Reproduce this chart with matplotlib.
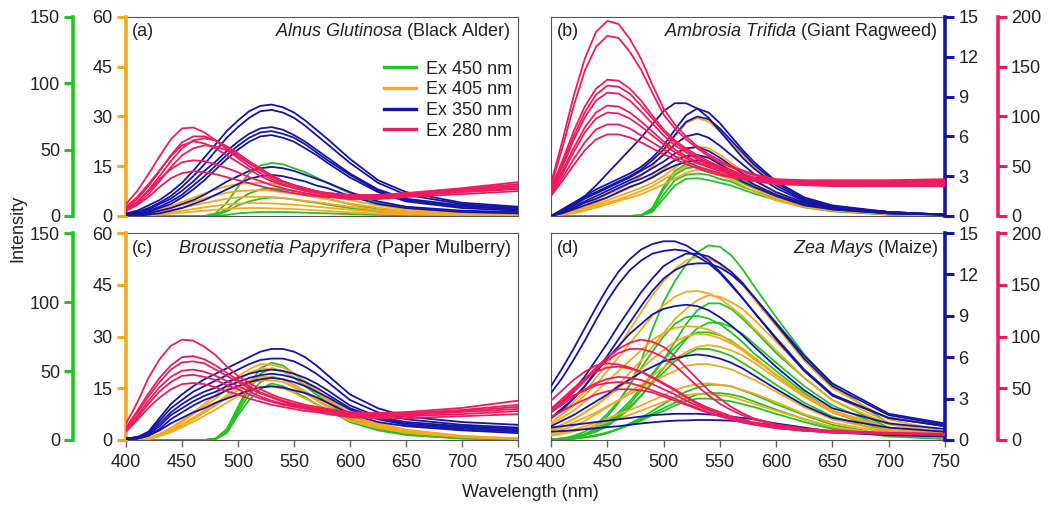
"""Four-panel fluorescence emission spectra (Ex 450/405/350/280 nm) for pollen species."""
import matplotlib
matplotlib.use("Agg")
import matplotlib.pyplot as plt
from matplotlib.lines import Line2D

plt.rcParams["font.family"] = ["Liberation Sans", "DejaVu Sans"]
plt.rcParams["mathtext.fontset"] = "custom"
plt.rcParams["mathtext.rm"] = "Liberation Sans"
plt.rcParams["mathtext.it"] = "Liberation Sans:italic"

# ----------------------------------------------------------------------------
# Data
# ----------------------------------------------------------------------------
wavelength = [400, 410, 420, 430, 440, 450, 460, 470, 480, 490, 500, 510,
              520, 530, 540, 550, 560, 570, 580, 600, 625, 650, 700, 750]

ex_labels = ["Ex 450 nm", "Ex 405 nm", "Ex 350 nm", "Ex 280 nm"]
ex_colors = ["#22c41f", "#f6a81f", "#1414a8", "#ee1b5e"]
ex_ymax = [150, 60, 15, 200]
ex_yticks = [[0, 50, 100, 150], [0, 15, 30, 45, 60],
             [0, 3, 6, 9, 12, 15], [0, 50, 100, 150, 200]]

# (a) Alnus glutinosa
alder_ex450 = [
    [0, 0, 0, 0, 0, 0, 0, 0, 2, 10, 22, 32, 38, 40, 39, 36, 33, 29, 25, 17, 10, 6, 2, 1],
    [0, 0, 0, 0, 0, 0, 0, 0, 1, 5, 12, 17, 20, 21, 20, 19, 17, 15, 13, 9, 5, 3, 1, 0.5],
    [0, 0, 0, 0, 0, 0, 0, 0, 0.6, 3.5, 8, 11, 13, 14, 13.5, 12.5, 11, 10, 8.5, 6, 3.5, 2, 0.8, 0.3],
    [0, 0, 0, 0, 0, 0, 0, 0, 0.2, 0.8, 2, 2.6, 3, 3, 3, 2.8, 2.5, 2.2, 2, 1.4, 0.8, 0.5, 0.2, 0.1],
]
alder_ex405 = [
    [0, 0.3, 1.0, 1.9, 3.0, 4.2, 5.5, 6.8, 8.0, 9.0, 9.6, 9.9, 10, 9.8, 9.3, 8.7, 8.0, 7.2, 6.4, 4.8, 3.2, 2.0, 0.8, 0.3],
    [0, 0.2, 0.8, 1.5, 2.4, 3.3, 4.3, 5.3, 6.2, 7.0, 7.5, 7.7, 7.8, 7.6, 7.2, 6.7, 6.2, 5.6, 5.0, 3.7, 2.5, 1.5, 0.6, 0.2],
    [0, 0.2, 0.6, 1.1, 1.8, 2.5, 3.2, 3.9, 4.6, 5.2, 5.6, 5.8, 5.8, 5.7, 5.4, 5.0, 4.6, 4.2, 3.7, 2.8, 1.8, 1.1, 0.5, 0.2],
    [0, 0.1, 0.4, 0.7, 1.2, 1.6, 2.1, 2.6, 3.1, 3.5, 3.7, 3.9, 3.9, 3.8, 3.6, 3.4, 3.1, 2.8, 2.5, 1.9, 1.2, 0.8, 0.3, 0.1],
    [0, 0.1, 0.2, 0.4, 0.7, 1.0, 1.3, 1.6, 1.9, 2.1, 2.3, 2.4, 2.4, 2.3, 2.2, 2.1, 1.9, 1.7, 1.5, 1.1, 0.7, 0.5, 0.2, 0.1],
]
alder_ex350 = [
    [0.2, 0.4, 0.8, 1.2, 1.8, 2.5, 3.4, 4.4, 5.4, 6.4, 7.2, 7.9, 8.3, 8.4, 8.2, 7.8, 7.2, 6.5, 5.8, 4.3, 2.7, 1.8, 1.0, 0.7],
    [0.1, 0.3, 0.6, 1.0, 1.5, 2.2, 3.0, 3.9, 4.9, 5.9, 6.7, 7.4, 7.9, 8.0, 7.8, 7.4, 6.8, 6.1, 5.4, 4.0, 2.5, 1.6, 0.9, 0.6],
    [0.1, 0.3, 0.5, 0.9, 1.3, 1.9, 2.6, 3.4, 4.1, 4.9, 5.6, 6.2, 6.6, 6.7, 6.5, 6.1, 5.6, 5.0, 4.4, 3.2, 2.0, 1.3, 0.8, 0.5],
    [0.1, 0.2, 0.4, 0.7, 1.1, 1.6, 2.3, 3.0, 3.8, 4.6, 5.3, 5.9, 6.3, 6.4, 6.2, 5.9, 5.4, 4.8, 4.2, 3.1, 1.9, 1.2, 0.7, 0.5],
    [0.0, 0.1, 0.3, 0.6, 0.9, 1.4, 2.0, 2.7, 3.5, 4.3, 5.0, 5.6, 6.0, 6.1, 5.9, 5.6, 5.1, 4.6, 4.0, 2.9, 1.8, 1.1, 0.6, 0.4],
    [0.0, 0.1, 0.2, 0.4, 0.6, 0.9, 1.2, 1.6, 2.1, 2.6, 3.0, 3.4, 3.6, 3.7, 3.6, 3.4, 3.1, 2.8, 2.5, 1.8, 1.1, 0.7, 0.4, 0.3],
    [0.0, 0.0, 0.1, 0.2, 0.4, 0.6, 0.9, 1.2, 1.6, 2.0, 2.4, 2.8, 3.0, 3.1, 3.0, 2.8, 2.6, 2.3, 2.1, 1.5, 0.9, 0.6, 0.3, 0.2],
]
alder_ex280 = [
    [12, 25, 42, 60, 77, 88, 89, 84, 76, 67, 58, 50, 43, 37, 32, 28, 26, 24, 23, 21, 21, 23, 28, 34],
    [8, 17, 30, 45, 61, 74, 80, 80, 76, 69, 61, 53, 46, 39, 34, 30, 27, 24, 22, 20, 20, 22, 27, 32],
    [7, 14, 26, 40, 55, 68, 76, 78, 76, 70, 63, 55, 48, 41, 35, 31, 28, 25, 23, 21, 21, 23, 26, 30],
    [9, 19, 32, 46, 60, 71, 75, 73, 68, 61, 54, 47, 40, 35, 31, 28, 25, 23, 21, 19, 19, 21, 25, 28],
    [6, 12, 22, 35, 49, 61, 68, 71, 70, 66, 60, 53, 46, 40, 35, 31, 28, 25, 23, 20, 20, 22, 26, 30],
    [7, 14, 25, 37, 47, 54, 56, 55, 52, 48, 44, 39, 35, 31, 28, 25, 23, 21, 20, 18, 18, 20, 24, 27],
    [5, 11, 19, 29, 38, 43, 45, 44, 42, 39, 36, 33, 30, 27, 25, 23, 21, 20, 19, 17, 17, 19, 22, 25],
]

# (b) Ambrosia trifida
ragweed_ex450 = [
    [0, 0, 0, 0, 0, 0, 0, 0, 0.5, 6, 22, 34, 39, 40, 38, 35, 31, 27, 23, 16, 9, 5, 1.5, 0.5],
    [0, 0, 0, 0, 0, 0, 0, 0, 0.5, 5, 20, 31, 36, 37, 35, 32, 29, 25, 21, 15, 8.5, 4.5, 1.3, 0.4],
    [0, 0, 0, 0, 0, 0, 0, 0, 0.4, 4, 16, 27, 31, 32, 31, 28, 26, 22, 19, 13, 7.5, 4, 1.2, 0.4],
    [0, 0, 0, 0, 0, 0, 0, 0, 0.3, 3, 13, 23, 28, 28.5, 27, 25, 23, 20, 17, 12, 6.5, 3.5, 1, 0.3],
]
ragweed_ex405 = [
    [0, 1, 2, 3.3, 5, 6.5, 8, 10, 12, 15, 19, 24, 28, 29.5, 28.5, 25.5, 22, 18.5, 15, 9.5, 5, 3, 1, 0.3],
    [0, 0.7, 1.5, 2.6, 4, 5.5, 7, 8.5, 10, 12, 14, 17, 20, 21, 20.5, 18.5, 16, 13.5, 11, 7, 4, 2.2, 0.8, 0.2],
    [0, 0.6, 1.2, 2.2, 3.5, 4.7, 6, 7.2, 8.5, 10, 12, 14.5, 17, 18, 17.5, 15.8, 14, 11.8, 9.5, 6, 3.4, 2, 0.7, 0.2],
    [0, 0.5, 1.0, 1.9, 3.0, 4.0, 5, 6.2, 7.5, 9, 11, 13, 15, 16, 15.5, 14, 12.5, 10.5, 8.5, 5.3, 3, 1.8, 0.6, 0.2],
    [0, 0.4, 0.8, 1.6, 2.5, 3.5, 4.5, 5.5, 6.5, 8, 9.5, 11.3, 13, 14, 13.6, 12.3, 11, 9.2, 7.5, 4.7, 2.7, 1.6, 0.5, 0.2],
]
ragweed_ex350 = [
    [0, 0.4, 0.9, 1.5, 2.3, 3.2, 4.1, 5.0, 5.9, 6.9, 7.9, 8.5, 8.5, 8.1, 7.4, 6.4, 5.4, 4.4, 3.6, 2.3, 1.2, 0.7, 0.3, 0.1],
    [0, 0.5, 1.0, 1.5, 2.0, 2.4, 2.8, 3.2, 3.7, 4.4, 5.3, 6.5, 7.6, 8.1, 7.8, 7.0, 6.0, 5.0, 4.1, 2.6, 1.4, 0.8, 0.3, 0.1],
    [0, 0.4, 0.9, 1.4, 1.8, 2.2, 2.6, 3.0, 3.5, 4.2, 5.0, 6.1, 7.1, 7.5, 7.3, 6.6, 5.7, 4.8, 3.9, 2.5, 1.3, 0.7, 0.3, 0.1],
    [0, 0.4, 0.8, 1.3, 1.7, 2.1, 2.5, 2.9, 3.4, 3.9, 4.6, 5.4, 6.0, 6.2, 5.9, 5.3, 4.6, 3.9, 3.2, 2.1, 1.1, 0.6, 0.3, 0.1],
    [0, 0.3, 0.7, 1.1, 1.5, 1.9, 2.3, 2.7, 3.1, 3.6, 4.1, 4.7, 5.1, 5.2, 4.9, 4.4, 3.8, 3.2, 2.7, 1.8, 1.0, 0.6, 0.2, 0.1],
    [0, 0.3, 0.6, 1.0, 1.3, 1.7, 2.1, 2.5, 2.8, 3.2, 3.7, 4.2, 4.5, 4.6, 4.4, 3.9, 3.4, 2.9, 2.4, 1.6, 0.9, 0.5, 0.2, 0.1],
    [0, 0.2, 0.5, 0.8, 1.1, 1.4, 1.8, 2.2, 2.5, 2.9, 3.4, 3.8, 4.1, 4.2, 4.0, 3.6, 3.1, 2.6, 2.2, 1.5, 0.8, 0.5, 0.2, 0.1],
]
ragweed_ex280 = [
    [33, 75, 120, 158, 185, 196, 193, 178, 158, 132, 108, 92, 80, 70, 62, 56, 50, 46, 42, 37, 36, 36, 36, 37],
    [30, 68, 110, 146, 170, 181, 179, 165, 147, 124, 102, 88, 77, 68, 60, 54, 49, 45, 41, 36, 35, 35, 35, 36],
    [28, 55, 85, 110, 128, 137, 136, 128, 116, 101, 87, 76, 68, 61, 55, 50, 46, 42, 39, 35, 34, 34, 34, 35],
    [26, 52, 80, 104, 122, 131, 130, 123, 111, 98, 85, 74, 66, 59, 53, 49, 45, 41, 38, 34, 33, 33, 33, 34],
    [25, 49, 76, 99, 116, 124, 123, 116, 105, 93, 81, 71, 64, 57, 52, 48, 44, 41, 38, 34, 33, 33, 33, 33],
    [24, 45, 68, 89, 104, 111, 110, 104, 95, 85, 75, 67, 60, 54, 50, 46, 43, 40, 37, 33, 32, 32, 32, 32],
    [22, 42, 64, 84, 98, 104, 103, 98, 90, 81, 72, 64, 58, 53, 49, 45, 42, 39, 36, 33, 32, 32, 32, 32],
    [21, 38, 57, 74, 87, 92, 92, 88, 81, 74, 67, 60, 55, 50, 46, 43, 40, 38, 36, 33, 32, 31, 31, 31],
    [20, 35, 51, 66, 77, 82, 82, 79, 74, 68, 62, 57, 52, 48, 44, 41, 39, 37, 35, 32, 31, 30, 30, 30],
]

# (c) Broussonetia papyrifera
mulberry_ex450 = [
    [0, 0, 0, 0, 0, 0, 0, 0, 1, 8, 24, 40, 52, 56, 54, 48, 42, 35, 29, 18, 10, 5, 1.5, 0.5],
    [0, 0, 0, 0, 0, 0, 0, 0, 1, 7, 22, 37, 48, 52, 50, 45, 39, 33, 27, 16, 9, 4.5, 1.4, 0.4],
    [0, 0, 0, 0, 0, 0, 0, 0, 0.8, 6, 20, 33, 42, 46, 44, 40, 35, 29, 24, 15, 8, 4, 1.2, 0.4],
    [0, 0, 0, 0, 0, 0, 0, 0, 0.6, 5, 18, 29, 37, 41, 39, 35, 31, 26, 22, 13, 7, 3.6, 1, 0.3],
]
mulberry_ex405 = [
    [0, 0, 0.5, 1.8, 3.5, 5.7, 8, 10.5, 13, 15.8, 18.5, 20.5, 22, 21.8, 21, 19.3, 17, 14.5, 12, 8, 5, 3, 1.2, 0.5],
    [0, 0, 0.4, 1.6, 3.2, 5.3, 7.5, 9.8, 12, 14.8, 17.5, 19.5, 20.7, 20.6, 20, 18.2, 16, 13.8, 11.5, 7.5, 4.6, 2.8, 1.1, 0.4],
    [0, 0, 0.3, 1.4, 2.8, 4.6, 6.5, 8.5, 10.5, 13, 15.5, 17.2, 18.3, 18.2, 17.6, 16, 14.2, 12.1, 10, 6.6, 4.1, 2.5, 1, 0.4],
    [0, 0, 0.3, 1.3, 2.6, 4.2, 6, 8, 10, 12.3, 14.5, 16.2, 17.3, 17.3, 16.8, 15.3, 13.5, 11.6, 9.6, 6.3, 3.9, 2.4, 0.9, 0.3],
    [0, 0, 0.2, 1.1, 2.2, 3.7, 5.3, 7, 8.8, 10.8, 12.8, 14.3, 15.4, 15.4, 15, 13.7, 12, 10.3, 8.5, 5.6, 3.5, 2.1, 0.8, 0.3],
]
mulberry_ex350 = [
    [0.1, 0.2, 0.6, 1.6, 2.6, 3.3, 3.9, 4.4, 4.8, 5.2, 5.6, 6.0, 6.4, 6.6, 6.6, 6.4, 6.0, 5.4, 4.7, 3.3, 2.3, 1.7, 1.3, 1.1],
    [0.1, 0.2, 0.5, 1.4, 2.3, 2.9, 3.5, 3.9, 4.3, 4.7, 5.1, 5.5, 5.8, 5.9, 5.9, 5.7, 5.3, 4.8, 4.2, 2.9, 2.0, 1.5, 1.1, 0.9],
    [0.1, 0.2, 0.4, 1.2, 2.0, 2.6, 3.1, 3.5, 3.8, 4.2, 4.5, 4.8, 5.0, 5.1, 5.0, 4.8, 4.5, 4.1, 3.6, 2.5, 1.7, 1.3, 1.0, 0.8],
    [0.1, 0.2, 0.4, 1.0, 1.8, 2.3, 2.8, 3.2, 3.5, 3.9, 4.2, 4.5, 4.7, 4.8, 4.7, 4.5, 4.2, 3.8, 3.3, 2.3, 1.6, 1.2, 0.9, 0.7],
    [0.0, 0.1, 0.3, 0.8, 1.5, 2.0, 2.5, 2.9, 3.2, 3.6, 3.9, 4.2, 4.4, 4.5, 4.4, 4.2, 3.9, 3.5, 3.1, 2.2, 1.5, 1.1, 0.8, 0.6],
    [0.0, 0.1, 0.3, 0.7, 1.2, 1.6, 2.0, 2.3, 2.7, 3.0, 3.3, 3.6, 3.8, 3.9, 3.8, 3.6, 3.4, 3.1, 2.7, 1.9, 1.3, 1.0, 0.7, 0.5],
]
mulberry_ex280 = [
    [16, 36, 60, 78, 91, 97, 96, 90, 82, 71, 62, 55, 49, 44, 40, 37, 34, 32, 30, 27, 26, 27, 31, 38],
    [12, 28, 45, 60, 72, 80, 81, 78, 72, 65, 58, 52, 46, 42, 38, 35, 33, 31, 29, 26, 25, 26, 29, 34],
    [11, 26, 42, 56, 68, 75, 76, 74, 68, 62, 56, 50, 45, 41, 37, 34, 32, 30, 28, 25, 24, 25, 28, 32],
    [10, 23, 38, 51, 61, 67, 68, 66, 62, 57, 52, 47, 42, 38, 35, 33, 31, 29, 27, 24, 23, 24, 27, 30],
    [9, 21, 35, 47, 56, 62, 63, 61, 58, 53, 49, 44, 40, 37, 34, 32, 30, 28, 26, 23, 22, 23, 25, 28],
    [8, 19, 31, 41, 49, 54, 55, 54, 51, 47, 44, 40, 37, 34, 32, 30, 28, 27, 25, 22, 21, 21, 23, 25],
]

# (d) Zea mays
maize_ex450 = [
    [0.5, 1, 2, 4, 9, 17, 27, 40, 57, 80, 100, 115, 127, 136, 141, 140, 134, 124, 112, 89, 62, 40, 12, 3],
    [0.5, 1, 2, 4, 7, 12, 18, 26, 36, 47, 58, 71, 84, 94, 99, 99, 95, 88, 80, 63, 45, 29, 9, 2.5],
    [0.5, 1, 3, 6, 11, 19, 28, 40, 52, 64, 75, 84, 89, 90, 88, 84, 78, 71, 63, 50, 34, 21, 7, 2],
    [0.5, 1, 2, 3.5, 6, 10, 16, 23, 32, 42, 52, 63, 73, 81, 85, 85, 82, 77, 70, 56, 39, 25, 8, 2],
    [0.5, 1, 2, 4, 8, 13, 20, 28, 38, 48, 58, 67, 74, 78, 78, 76, 72, 66, 60, 47, 32, 20, 6, 2],
    [0.5, 1, 2, 4, 7, 11, 17, 24, 32, 41, 49, 57, 62, 66, 66, 64, 61, 56, 51, 40, 27, 17, 5, 1.5],
    [0.3, 0.5, 1, 2, 3, 5, 8, 12, 16, 21, 26, 31, 35, 38, 40, 40, 39, 36, 33, 26, 18, 11, 3.5, 1],
    [0.3, 0.5, 1, 2, 3, 5, 8, 11, 15, 19, 23, 27, 30, 33, 34, 34, 33, 31, 28, 22, 15, 9, 3, 1],
    [0.3, 0.6, 1, 2, 3.5, 5.5, 8, 11, 14, 18, 21, 25, 28, 30, 30, 29, 28, 26, 24, 19, 13, 8, 2.5, 0.8],
]
maize_ex405 = [
    [6, 8.5, 11, 14, 18, 22, 27, 32, 37, 42, 46, 49.5, 52, 53, 52.5, 51, 48, 45, 41, 33, 23, 15, 6, 2.5],
    [5, 7.5, 10, 13, 16, 20, 24, 28, 32, 36, 39, 41.5, 43, 43.2, 42.5, 41, 38.5, 36, 32.5, 26, 18, 11.5, 4.5, 2],
    [3, 4.5, 6, 8, 10, 13, 16, 19.5, 23, 27, 31, 35, 38, 40.5, 42, 41.5, 40, 38, 35, 28.5, 20, 13, 5, 2],
    [4.5, 6.5, 8.5, 11, 14, 17, 20, 23, 26, 29, 31, 32.5, 33, 32.8, 32, 30.5, 28.5, 26.5, 24, 19, 13, 8.5, 3.5, 1.5],
    [3, 4.5, 6, 8, 10, 12.5, 15, 17.5, 20.5, 23.5, 26, 28.5, 30, 30.8, 30.5, 29.5, 28, 26, 23.5, 19, 13, 8.5, 3.5, 1.5],
    [2, 3, 4, 5.5, 7.5, 9.5, 11.5, 14, 16, 18.5, 21, 23.5, 25.5, 27, 27.5, 27, 26, 24.5, 22.5, 18, 12.5, 8, 3, 1.2],
    [2.5, 3.7, 5, 6.5, 8, 9.8, 11.5, 13.3, 15, 17, 18.5, 20, 21.5, 22, 22, 21.3, 20.5, 19, 17.5, 14, 9.5, 6, 2.5, 1],
    [1.5, 2.2, 3, 4, 5, 6.2, 7.5, 8.7, 10, 11.5, 13, 14.5, 15.5, 16.2, 16.4, 16, 15.5, 14.5, 13.5, 11, 7.5, 5, 2, 0.8],
    [1.2, 1.8, 2.5, 3.3, 4.2, 5.2, 6.2, 7.3, 8.5, 9.8, 11, 12.2, 13, 13.4, 13.4, 13, 12.5, 11.5, 10.5, 8.5, 6, 3.8, 1.5, 0.6],
]
maize_ex350 = [
    [3.9, 5.2, 6.6, 8.1, 9.6, 11.0, 12.2, 13.1, 13.8, 14.2, 14.4, 14.4, 14.1, 13.6, 13.0, 12.2, 11.3, 10.3, 9.3, 7.3, 5.0, 3.2, 1.6, 1.0],
    [3.4, 4.5, 5.8, 7.2, 8.7, 10.1, 11.3, 12.3, 13.0, 13.5, 13.7, 13.8, 13.7, 13.3, 12.8, 12.1, 11.2, 10.3, 9.3, 7.4, 5.1, 3.3, 1.6, 1.0],
    [2.0, 2.7, 3.6, 4.6, 5.8, 7.0, 8.3, 9.5, 10.7, 11.7, 12.6, 13.1, 13.5, 13.5, 13.3, 12.8, 12.2, 11.4, 10.4, 8.4, 5.9, 3.9, 1.8, 1.1],
    [1.6, 2.2, 3.0, 3.9, 5.0, 6.1, 7.3, 8.5, 9.7, 10.8, 11.7, 12.3, 12.7, 12.8, 12.8, 12.5, 12.0, 11.3, 10.4, 8.5, 6.1, 4.1, 1.9, 1.2],
    [1.6, 2.3, 3.0, 3.9, 4.9, 5.9, 6.8, 7.7, 8.4, 9.1, 9.5, 9.7, 9.8, 9.7, 9.4, 8.9, 8.3, 7.6, 6.8, 5.3, 3.6, 2.3, 1.2, 0.8],
    [1.0, 1.4, 1.8, 2.3, 2.8, 3.3, 3.9, 4.4, 4.9, 5.3, 5.7, 5.9, 6.1, 6.2, 6.1, 5.9, 5.6, 5.2, 4.7, 3.7, 2.5, 1.6, 0.9, 0.6],
    [0.9, 1.0, 1.1, 1.2, 1.3, 1.4, 1.5, 1.6, 1.7, 1.8, 1.85, 1.9, 1.9, 1.9, 1.85, 1.8, 1.7, 1.6, 1.5, 1.2, 0.9, 0.6, 0.4, 0.3],
    [0.6, 0.65, 0.7, 0.78, 0.85, 0.93, 1.0, 1.1, 1.2, 1.28, 1.35, 1.4, 1.42, 1.45, 1.45, 1.43, 1.4, 1.33, 1.25, 1.05, 0.8, 0.55, 0.35, 0.25],
]
maize_ex280 = [
    [30, 38, 48, 59, 70, 80, 88, 94, 97, 95, 90, 81, 70, 59, 48, 40, 32, 26, 21, 15, 11, 9, 7, 6],
    [28, 36, 46, 57, 68, 77, 84, 88, 88, 85, 80, 72, 62, 52, 43, 35, 29, 24, 20, 14, 10, 8, 6.5, 5.5],
    [38, 48, 58, 66, 72, 74, 73, 70, 66, 60, 54, 48, 41, 35, 30, 26, 22, 19, 16, 12, 9, 8, 6.5, 5.5],
    [30, 40, 50, 59, 66, 70, 71, 69, 66, 61, 55, 49, 42, 36, 31, 27, 23, 20, 17, 13, 10, 8, 6.5, 5.5],
    [27, 34, 42, 49, 55, 59, 61, 60, 58, 54, 49, 44, 38, 33, 29, 25, 21, 18, 16, 12, 9.5, 7.5, 6, 5],
    [30, 37, 43, 48, 53, 55, 56, 55, 52, 48, 44, 40, 35, 31, 27, 23, 20, 17, 15, 11.5, 9, 7.5, 6, 5],
    [22, 28, 34, 39, 44, 47, 49, 49, 48, 46, 42, 38, 34, 30, 26, 23, 20, 17, 15, 11.5, 9, 7, 6, 5],
]

panel_tags = ["(a)", "(b)", "(c)", "(d)"]
panel_titles = [r"$\mathit{Alnus\ Glutinosa}$ (Black Alder)",
                r"$\mathit{Ambrosia\ Trifida}$ (Giant Ragweed)",
                r"$\mathit{Broussonetia\ Papyrifera}$ (Paper Mulberry)",
                r"$\mathit{Zea\ Mays}$ (Maize)"]
panel_spectra = [
    [alder_ex450, alder_ex405, alder_ex350, alder_ex280],
    [ragweed_ex450, ragweed_ex405, ragweed_ex350, ragweed_ex280],
    [mulberry_ex450, mulberry_ex405, mulberry_ex350, mulberry_ex280],
    [maize_ex450, maize_ex405, maize_ex350, maize_ex280],
]
x_ticks = [400, 450, 500, 550, 600, 650, 700, 750]

# ----------------------------------------------------------------------------
# Figure
# ----------------------------------------------------------------------------
FS = 13
FRAME = "#555555"
TXT = "#222222"

fig = plt.figure(figsize=(10.5, 5.08), dpi=100)

rects = [
    [126 / 1050, 1 - 216 / 508, 392 / 1050, 199 / 508],
    [551 / 1050, 1 - 216 / 508, 394 / 1050, 199 / 508],
    [126 / 1050, 1 - 440 / 508, 392 / 1050, 207 / 508],
    [551 / 1050, 1 - 440 / 508, 394 / 1050, 207 / 508],
]


def style_yspine(ax, side, color, outward):
    sp = ax.spines[side]
    sp.set_visible(True)
    sp.set_color(color)
    sp.set_linewidth(2.6)
    sp.set_position(("outward", outward))
    ax.yaxis.set_ticks_position(side)
    ax.tick_params(axis="y", which="both", length=6.5, width=2.2, color=color,
                   pad=3, labelsize=FS, labelcolor=TXT,
                   left=(side == "left"), right=(side == "right"),
                   labelleft=(side == "left"), labelright=(side == "right"))


for k, rect in enumerate(rects):
    side = "left" if k % 2 == 0 else "right"
    bottom_row = k >= 2
    axes = []
    for i in range(4):
        ax = fig.add_axes(rect, label=f"panel{k}_ex{i}")
        if i > 0:
            ax.patch.set_visible(False)
        for curve in panel_spectra[k][i]:
            ax.plot(wavelength, curve, color=ex_colors[i], lw=1.3)
        ax.set_xlim(400, 750)
        ax.set_ylim(0, ex_ymax[i])
        ax.set_yticks(ex_yticks[i])
        for sp in ax.spines.values():
            sp.set_visible(False)
        ax.tick_params(left=False, right=False, top=False, bottom=False,
                       labelleft=False, labelright=False, labelbottom=False)
        axes.append(ax)

    frame = axes[0]
    for s in ["top", "bottom", "left", "right"]:
        frame.spines[s].set_visible(True)
        frame.spines[s].set_color(FRAME)
        frame.spines[s].set_linewidth(0.8)

    if side == "left":
        frame.spines["left"].set_visible(False)
        style_yspine(axes[0], "left", ex_colors[0], 38)
        style_yspine(axes[1], "left", ex_colors[1], 0)
    else:
        frame.spines["right"].set_visible(False)
        style_yspine(axes[2], "right", ex_colors[2], 0)
        style_yspine(axes[3], "right", ex_colors[3], 38)

    frame.set_xticks(x_ticks)
    if bottom_row:
        frame.tick_params(axis="x", bottom=True, labelbottom=True, length=5,
                          width=1.0, color="#666666", pad=5, labelsize=FS,
                          labelcolor=TXT, direction="out")

    frame.text(0.016, 0.925, panel_tags[k], transform=frame.transAxes,
               fontsize=FS, color=TXT, va="center", ha="left")
    frame.text(0.982, 0.925, panel_titles[k], transform=frame.transAxes,
               fontsize=FS, color=TXT, va="center", ha="right")

    if k == 0:
        handles = [Line2D([], [], color=c, lw=2.4) for c in ex_colors]
        frame.legend(handles, ex_labels, loc="upper right",
                     bbox_to_anchor=(0.985, 0.78), frameon=False, fontsize=FS,
                     borderpad=0, borderaxespad=0, handlelength=1.8,
                     handletextpad=0.55, labelspacing=0.2,
                     labelcolor=TXT)

fig.text(0.017, 0.551, "Intensity", rotation=90, fontsize=FS, color=TXT,
         ha="center", va="center")
fig.text(0.505, 0.03, "Wavelength (nm)", fontsize=FS, color=TXT,
         ha="center", va="center")

fig.savefig("out.png", dpi=100)
